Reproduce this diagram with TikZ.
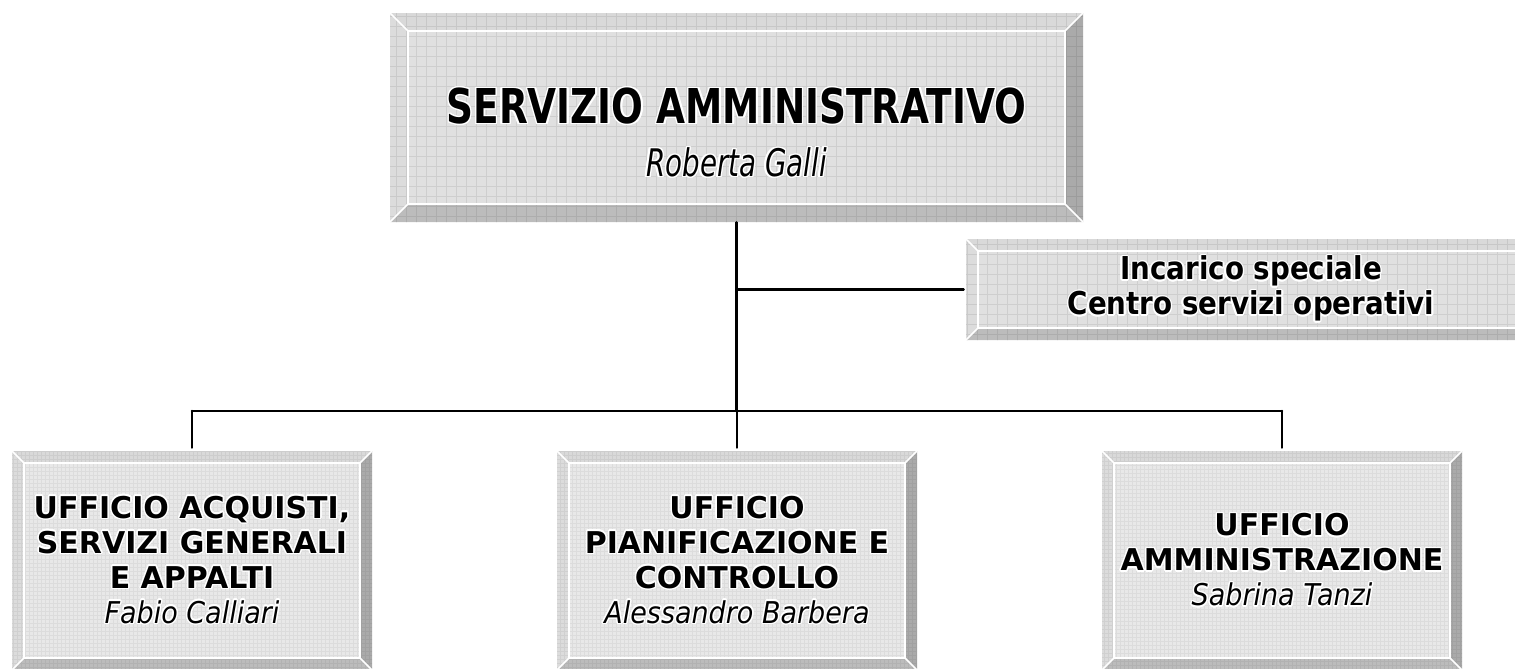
\documentclass[tikz,border=0pt]{standalone}
\usepackage{fontspec}
\usepackage[copies]{contour}
\setmainfont{DejaVu Sans}
\newfontfamily\titlefont[FakeStretch=0.78]{DejaVu Sans}
\newfontfamily\namefont[FakeStretch=0.73]{DejaVu Sans}
\newfontfamily\unitnamefont[FakeStretch=0.9]{DejaVu Sans}
\newfontfamily\sidefont[FakeStretch=0.88]{DejaVu Sans}
\usetikzlibrary{positioning, calc}
\contourlength{0.7pt}
\newcommand{\halo}[1]{\contour{white}{#1}}

\definecolor{facegray}{HTML}{E0E0E0}
\definecolor{facelight}{HTML}{E8E8E8}
\definecolor{bevtopcol}{HTML}{D9D9D9}
\definecolor{bevleftcol}{HTML}{DCDCDC}
\definecolor{bevrightcol}{HTML}{AAAAAA}
\definecolor{bevbotcol}{HTML}{BCBCBC}

\begin{document}
\begin{tikzpicture}[x=0.5pt, y=0.5pt, line cap=round, line join=round]
	
	%======================
	% CANVAS (1 px = 0.5pt)
	%======================
	\useasboundingbox (0,0) rectangle (1515,-669);
	
	%======================
	% STYLES
	%======================
	\tikzset{
		bev/.store in=\bevw, bev=6pt,
		gridstep/.store in=\gridw, gridstep=5pt,
		gridop/.store in=\gridop, gridop=0.08,
		bevelbox/.style={rectangle, inner sep=0pt, align=center, fill=facegray,
			path picture={
				\path (path picture bounding box.south west) coordinate (bsw)
				(path picture bounding box.north east) coordinate (bne)
				(path picture bounding box.north west) coordinate (bnw)
				(path picture bounding box.south east) coordinate (bse);
				\path ([shift={(\bevw,\bevw)}]bsw) coordinate (isw)
				([shift={(-\bevw,-\bevw)}]bne) coordinate (ine)
				(isw -| ine) coordinate (ise)
				(isw |- ine) coordinate (inw);
				\fill[bevtopcol] (bnw) -- (bne) -- (ine) -- (inw) -- cycle;
				\fill[bevleftcol] (bnw) -- (inw) -- (isw) -- (bsw) -- cycle;
				\fill[bevrightcol] (bne) -- (bse) -- (ise) -- (ine) -- cycle;
				\fill[bevbotcol] (bsw) -- (isw) -- (ise) -- (bse) -- cycle;
				\draw[black, opacity=\gridop, line width=0.5pt, step=\gridw] (bsw) grid (bne);
				\draw[white, line width=0.8pt] (isw) rectangle (ine)
				(bnw) -- (inw) (bne) -- (ine) (bse) -- (ise) (bsw) -- (isw);
		}},
		headbox/.style={bevelbox, bev=9pt, minimum width=346.5pt, minimum height=104.5pt,
			font=\fontsize{24}{26.5}\selectfont},
		sidebox/.style={bevelbox, bev=6pt, minimum width=285pt, minimum height=50.5pt,
			font=\sidefont\fontsize{15.75}{17.5}\selectfont\bfseries},
		unitbox/.style={bevelbox, bev=6pt, gridstep=2pt, gridop=0.05, fill=facelight,
			minimum width=180pt, minimum height=109.5pt,
			font=\fontsize{15}{17.5}\selectfont\bfseries},
		conn/.style={line width=1.3pt, black}
	}
	
	%======================
	% BOXES
	%======================
	\node[headbox] (srv) at (736.5,-117.5)
	{\rule{0pt}{33.5pt}\halo{\titlefont\bfseries SERVIZIO AMMINISTRATIVO}\\
		\halo{\namefont\fontsize{19}{26.5}\selectfont\itshape Roberta Galli}};
	
	\node[sidebox] (inc) at (1251,-289.5)
	{\halo{Incarico speciale}\\\halo{Centro servizi operativi}};
	
	\node[unitbox] (uacq) at (192,-560.5)
	{\halo{UFFICIO ACQUISTI,}\\\halo{SERVIZI GENERALI}\\\halo{E APPALTI}\\
		\halo{\unitnamefont\mdseries\itshape Fabio Calliari}};
	\node[unitbox] (upian) at (737,-560.5)
	{\halo{UFFICIO}\\\halo{PIANIFICAZIONE E}\\\halo{CONTROLLO}\\
		\halo{\unitnamefont\mdseries\itshape Alessandro Barbera}};
	\node[unitbox] (uamm) at (1282,-560.5)
	{\halo{UFFICIO}\\\halo{AMMINISTRAZIONE}\\
		\halo{\unitnamefont\mdseries\itshape Sabrina Tanzi}};
	
	%======================
	% CONNECTORS
	%======================
	\coordinate (jbus) at (srv.south |- 0,-411);
	\draw[conn] (srv.south) -- (jbus);
	\draw[conn] (srv.south |- inc.west) -- ([xshift=-1pt]inc.west);
	\draw[conn] (uacq.north |- jbus) -- (uamm.north |- jbus);
	\foreach \u in {uacq, upian, uamm}
	\draw[conn] (\u.north |- jbus) -- ([yshift=1.5pt]\u.north);
	
\end{tikzpicture}
\end{document}
